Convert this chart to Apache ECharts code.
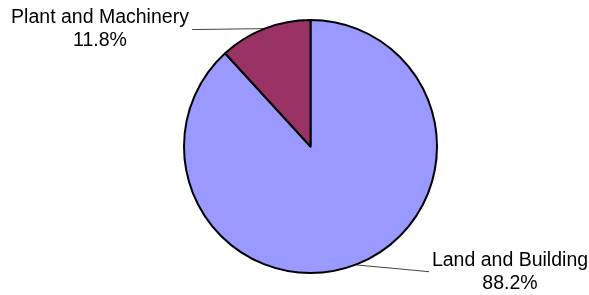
<!DOCTYPE html>
<html>
<head>
<meta charset="utf-8">
<script src="https://cdn.jsdelivr.net/npm/echarts@6/dist/echarts.min.js"></script>
<style>
html,body{margin:0;padding:0;background:#fff;}
#main{width:589px;height:295px;}
</style>
</head>
<body>
<div id="main"></div>
<script>
const categories = ['Land and Building', 'Plant and Machinery'];
const values = [88.2, 11.8];
const colors = ['#9999FF', '#993366'];

const labelPos = [
  { x: 510, y: 272, line: [[357, 265], [393, 268.3], [429, 271.7]] },
  { x: 100, y: 29.5, line: [[264, 28.6], [228, 29.1], [192, 29.6]] }
];

const chart = echarts.init(document.getElementById('main'), null, { renderer: 'canvas' });
chart.setOption({
  backgroundColor: '#ffffff',
  animation: false,
  series: [{
    type: 'pie',
    center: [310.5, 146.5],
    radius: 126.5,
    startAngle: 90,
    clockwise: true,
    percentPrecision: 1,
    data: categories.map((c, i) => ({ name: c, value: values[i], itemStyle: { color: colors[i] } })),
    itemStyle: { borderColor: '#000', borderWidth: 2 },
    label: {
      show: true,
      position: 'outside',
      formatter: '{b}\n{d}%',
      fontFamily: 'Liberation Sans, Arial, sans-serif',
      fontSize: 19.5,
      lineHeight: 23,
      color: '#000'
    },
    labelLine: { show: true, lineStyle: { color: '#444', width: 1 } },
    labelLayout: function (params) {
      const p = labelPos[params.dataIndex];
      return { x: p.x, y: p.y, align: 'center', verticalAlign: 'middle', labelLinePoints: p.line };
    },
    emphasis: { disabled: true }
  }]
});
</script>
</body>
</html>
